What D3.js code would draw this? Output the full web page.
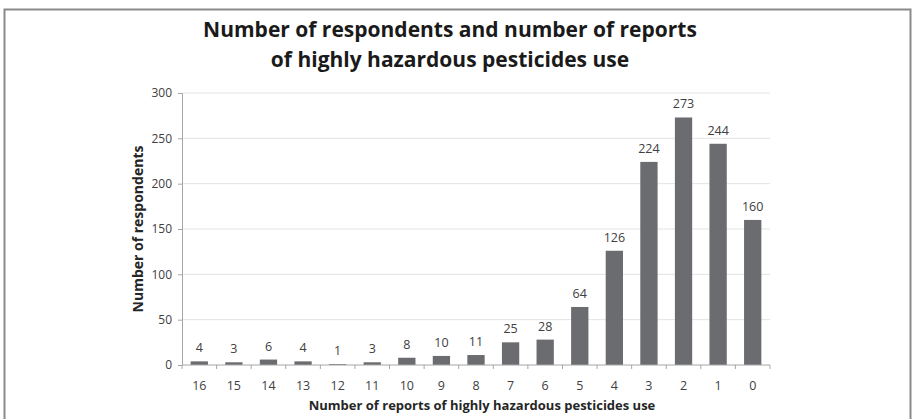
<!DOCTYPE html>
<html>
<head>
<meta charset="utf-8">
<script src="https://cdn.jsdelivr.net/npm/d3@7"></script>
<style>
  body { margin: 0; background: #fff; }
  svg { display: block; font-family: 'Open Sans', sans-serif; }
</style>
</head>
<body>
<div id="chart"></div>
<script>
// categories (number of reports) and respondents per category
const reports = ['16', '15', '14', '13', '12', '11', '10', '9', '8', '7', '6', '5', '4', '3', '2', '1', '0'];
const respondents = [4, 3, 6, 4, 1, 3, 8, 10, 11, 25, 28, 64, 126, 224, 273, 244, 160];
const yTicks = [0, 50, 100, 150, 200, 250, 300];

const width = 916;
const height = 419;
const margin = { t: 93, r: 146, b: 54, l: 182 };

const data = reports.map((r, i) => ({ r, v: respondents[i] }));

const svg = d3.select('#chart')
  .append('svg')
  .attr('width', width)
  .attr('height', height);

// outer frame
svg.append('rect')
  .attr('x', 4.5).attr('y', 9.5)
  .attr('width', 906).attr('height', 420)
  .attr('fill', 'none')
  .attr('stroke', '#8a8a8a')
  .attr('stroke-width', 2);

const x = d3.scaleBand()
  .domain(reports)
  .range([margin.l, width - margin.r])
  .paddingInner(0.5)
  .paddingOuter(0.25);

const y = d3.scaleLinear()
  .domain([0, 300])
  .range([height - margin.b, margin.t]);

// gridlines
svg.append('g')
  .selectAll('line')
  .data(yTicks.slice(1))
  .join('line')
  .attr('x1', margin.l)
  .attr('x2', width - margin.r)
  .attr('y1', (d) => y(d))
  .attr('y2', (d) => y(d))
  .attr('stroke', '#e3e3e3')
  .attr('stroke-width', 1);

// bars
svg.append('g')
  .selectAll('rect')
  .data(data)
  .join('rect')
  .attr('x', (d) => x(d.r))
  .attr('y', (d) => y(d.v))
  .attr('width', x.bandwidth())
  .attr('height', (d) => y(0) - y(d.v))
  .attr('fill', '#6b6c70');

// value labels
svg.append('g')
  .selectAll('text')
  .data(data)
  .join('text')
  .attr('x', (d) => x(d.r) + x.bandwidth() / 2)
  .attr('y', (d) => y(d.v) - 9)
  .attr('text-anchor', 'middle')
  .attr('font-size', '12.5px')
  .attr('fill', '#404040')
  .text((d) => d.v);

// y axis
const yAxis = svg.append('g')
  .attr('transform', `translate(${margin.l},0)`)
  .call(d3.axisLeft(y).tickValues(yTicks).tickSize(4).tickPadding(6));
yAxis.select('.domain').attr('stroke', '#a6a6a6');
yAxis.selectAll('.tick line').attr('stroke', '#a6a6a6');
yAxis.selectAll('.tick text')
  .attr('font-size', '12px')
  .attr('font-family', 'Open Sans, sans-serif')
  .attr('fill', '#404040');

// x axis with ticks at band edges
const edges = d3.range(reports.length + 1).map((i) => margin.l + i * (width - margin.l - margin.r) / reports.length);
const xg = svg.append('g');
xg.append('line')
  .attr('x1', margin.l)
  .attr('x2', width - margin.r)
  .attr('y1', y(0))
  .attr('y2', y(0))
  .attr('stroke', '#a6a6a6');
xg.selectAll('.edge')
  .data(edges)
  .join('line')
  .attr('class', 'edge')
  .attr('x1', (d) => d)
  .attr('x2', (d) => d)
  .attr('y1', y(0))
  .attr('y2', y(0) + 4)
  .attr('stroke', '#a6a6a6');
xg.selectAll('text')
  .data(reports)
  .join('text')
  .attr('x', (d) => x(d) + x.bandwidth() / 2)
  .attr('y', y(0) + 25)
  .attr('text-anchor', 'middle')
  .attr('font-size', '12.5px')
  .attr('fill', '#404040')
  .text((d) => d);

// axis titles
svg.append('text')
  .attr('x', 482)
  .attr('y', 410)
  .attr('text-anchor', 'middle')
  .attr('font-size', '13px')
  .attr('font-weight', 'bold')
  .attr('fill', '#262626')
  .text('Number of reports of highly hazardous  pesticides use');

svg.append('text')
  .attr('transform', `translate(143, ${(y(0) + y(300)) / 2}) rotate(-90)`)
  .attr('text-anchor', 'middle')
  .attr('font-size', '14px')
  .attr('font-weight', 'bold')
  .attr('fill', '#262626')
  .text('Number of respondents');

// title
const title = svg.append('text')
  .attr('text-anchor', 'middle')
  .attr('font-size', '21px')
  .attr('font-weight', 'bold')
  .attr('fill', '#1a1a1a')
  .attr('font-family', 'Liberation Sans Narrow, Open Sans, sans-serif');
title.append('tspan').attr('x', 450).attr('y', 37).text('Number of respondents and number of reports');
title.append('tspan').attr('x', 450).attr('y', 67).text('of highly hazardous pesticides use');
</script>
</body>
</html>
